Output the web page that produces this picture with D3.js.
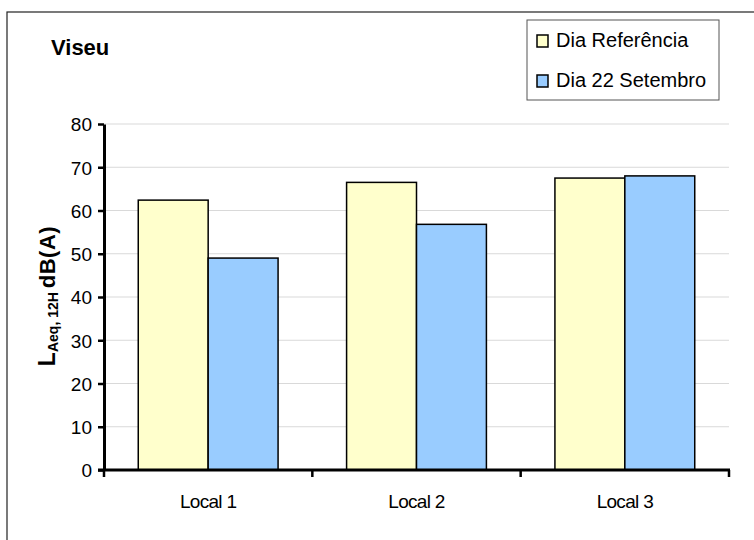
<!DOCTYPE html>
<meta charset="utf-8">
<style>
  body { margin: 0; background: #fff; }
  text { font-family: "Liberation Sans", Arial, sans-serif; fill: #000; }
</style>
<svg width="754" height="540"></svg>
<script src="https://cdnjs.cloudflare.com/ajax/libs/d3/7.8.5/d3.min.js"></script>
<script>

// dados
var locais = ["Local 1", "Local 2", "Local 3"];
var series = ["Dia Referência", "Dia 22 Setembro"];
var diaReferencia = [62.4, 66.5, 67.5];
var dia22Setembro = [49.0, 56.8, 68.0];
var yTicks = [0, 10, 20, 30, 40, 50, 60, 70, 80];
var cores = ["#ffffcc", "#99ccff"];

var svg = d3.select("svg"),
    width = +svg.attr("width"),
    height = +svg.attr("height");

var margin = {left: 104, right: 25, top: 124, bottom: 70};  // eixo 0 em y=470

var x0 = d3.scaleBand().domain(locais).range([margin.left, width - margin.right]).padding(0);
var x1 = d3.scaleBand().domain(series).range([0, x0.bandwidth()]).paddingInner(0).paddingOuter(0.49);
var y = d3.scaleLinear().domain([0, 80]).range([height - margin.bottom, margin.top]);
var color = d3.scaleOrdinal().domain(series).range(cores);

// moldura exterior
svg.append("rect")
    .attr("x", 7).attr("y", 12)
    .attr("width", 800).attr("height", 600)
    .attr("fill", "none")
    .attr("stroke", "#222")
    .attr("stroke-width", 1.2);

// linhas de grelha
svg.append("g")
  .selectAll("line")
  .data(yTicks.filter(function(d) { return d > 0; }))
  .enter().append("line")
    .attr("x1", margin.left).attr("x2", width - margin.right)
    .attr("y1", function(d) { return y(d); })
    .attr("y2", function(d) { return y(d); })
    .attr("stroke", "#d9d9d9")
    .attr("stroke-width", 1);

// barras
var rows = locais.map(function(l, i) {
  return {local: l, values: [
    {serie: series[0], v: diaReferencia[i]},
    {serie: series[1], v: dia22Setembro[i]}
  ]};
});

var grp = svg.append("g")
  .selectAll("g")
  .data(rows)
  .enter().append("g")
    .attr("transform", function(d) { return "translate(" + x0(d.local) + ",0)"; });

grp.selectAll("rect")
  .data(function(d) { return d.values; })
  .enter().append("rect")
    .attr("x", function(d) { return x1(d.serie); })
    .attr("y", function(d) { return y(d.v); })
    .attr("width", x1.bandwidth())
    .attr("height", function(d) { return y(0) - y(d.v); })
    .attr("fill", function(d) { return color(d.serie); })
    .attr("stroke", "#000")
    .attr("stroke-width", 1.5);

// eixo y
var yAxis = svg.append("g")
    .attr("transform", "translate(" + margin.left + ",0)")
    .call(d3.axisLeft(y).tickValues(yTicks).tickSize(6).tickPadding(6).tickSizeOuter(0));
yAxis.select(".domain").attr("stroke", "#000").attr("stroke-width", 3);
yAxis.selectAll(".tick line").attr("stroke", "#000").attr("stroke-width", 2.5);
yAxis.selectAll(".tick text")
    .attr("font-size", "19px")
    .attr("font-family", "Liberation Sans, Arial, sans-serif")
    .attr("dy", "0.36em");

// eixo x: marcas nas fronteiras das categorias
var xAxis = svg.append("g")
    .attr("transform", "translate(0," + y(0) + ")");
xAxis.append("line")
    .attr("x1", margin.left - 6).attr("x2", width - margin.right + 1)
    .attr("stroke", "#000").attr("stroke-width", 3);
var bounds = locais.map(function(l) { return x0(l); }).concat([x0.range()[1]]);
xAxis.selectAll(".xt")
  .data(bounds)
  .enter().append("line")
    .attr("class", "xt")
    .attr("x1", function(d) { return d; }).attr("x2", function(d) { return d; })
    .attr("y1", 0).attr("y2", 7)
    .attr("stroke", "#000").attr("stroke-width", 2.5);
xAxis.selectAll(".xl")
  .data(locais)
  .enter().append("text")
    .attr("class", "xl")
    .attr("x", function(d) { return x0(d) + x0.bandwidth() / 2; })
    .attr("y", 38)
    .attr("text-anchor", "middle")
    .attr("font-size", "19px")
    .attr("letter-spacing", "-0.7px")
    .text(function(d) { return d; });

// título
svg.append("text")
    .attr("x", 51).attr("y", 55)
    .attr("font-size", "22px")
    .attr("font-weight", "bold")
    .text("Viseu");

// título do eixo y
var yt = svg.append("text")
    .attr("transform", "translate(55,296) rotate(-90)")
    .attr("text-anchor", "middle")
    .attr("font-weight", "bold");
yt.append("tspan").attr("font-size", "23px").text("L");
yt.append("tspan").attr("font-size", "14px").attr("dy", 3).text("Aeq, 12H ");
yt.append("tspan").attr("font-size", "22px").attr("dy", -3).attr("letter-spacing", "0.5px").text("dB(A)");

// legenda
var leg = svg.append("g").attr("transform", "translate(527,20)");
leg.append("rect")
    .attr("width", 192).attr("height", 80)
    .attr("fill", "#fff")
    .attr("stroke", "#555").attr("stroke-width", 1);
var item = leg.selectAll(".item")
  .data(series)
  .enter().append("g")
    .attr("class", "item")
    .attr("transform", function(d, i) { return "translate(0," + (i * 40) + ")"; });
item.append("rect")
    .attr("x", 10).attr("y", 15)
    .attr("width", 11).attr("height", 12)
    .attr("fill", function(d) { return color(d); })
    .attr("stroke", "#000").attr("stroke-width", 1.5);
item.append("text")
    .attr("x", 29).attr("y", 27)
    .attr("font-size", "20px")
    .text(function(d) { return d; });

</script>
